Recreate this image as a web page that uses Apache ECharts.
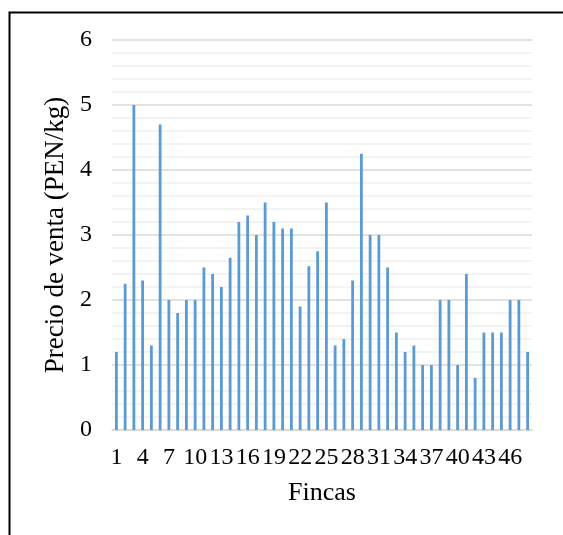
<!DOCTYPE html>
<html>
<head>
<meta charset="utf-8">
<script src="https://cdn.jsdelivr.net/npm/echarts@6/dist/echarts.min.js"></script>
<style>
html,body{margin:0;padding:0;background:#fff;}
#chart{width:563px;height:535px;}
</style>
</head>
<body>
<div id="chart"></div>
<script>
var fincas = [];
for (var i = 1; i <= 48; i++) fincas.push(String(i));
var precios = [1.2, 2.25, 5.0, 2.3, 1.3, 4.7, 2.0, 1.8, 2.0, 2.0,
               2.5, 2.4, 2.2, 2.65, 3.2, 3.3, 3.0, 3.5, 3.2, 3.1,
               3.1, 1.9, 2.52, 2.75, 3.5, 1.3, 1.4, 2.3, 4.25, 3.0,
               3.0, 2.5, 1.5, 1.2, 1.3, 1.0, 1.0, 2.0, 2.0, 1.0,
               2.4, 0.8, 1.5, 1.5, 1.5, 2.0, 2.0, 1.2];
var yTitle = 'Precio de venta (PEN/kg)';
var xTitle = 'Fincas';

var chart = echarts.init(document.getElementById('chart'));
var font = 'Liberation Serif';
chart.setOption({
  animation: false,
  graphic: [{
    type: 'rect',
    left: 7, top: 10,
    shape: {width: 620, height: 620},
    style: {fill: 'none', stroke: '#000', lineWidth: 2}
  }],
  grid: {left: 112, right: 31, top: 40, bottom: 105},
  xAxis: {
    type: 'category',
    data: fincas,
    name: xTitle,
    nameLocation: 'middle',
    nameGap: 50,
    nameTextStyle: {fontFamily: font, fontSize: 26, color: '#000'},
    axisLine: {lineStyle: {color: '#d9d9d9', width: 1.5}},
    axisTick: {show: false},
    axisLabel: {interval: 2, fontFamily: font, fontSize: 24, color: '#000', margin: 16}
  },
  yAxis: {
    type: 'value',
    min: 0, max: 6, interval: 1,
    name: yTitle,
    nameLocation: 'middle',
    nameGap: 39,
    nameTextStyle: {fontFamily: font, fontSize: 27, color: '#000'},
    axisLine: {show: false},
    axisTick: {show: false},
    axisLabel: {fontFamily: font, fontSize: 24, color: '#000', margin: 20},
    splitLine: {lineStyle: {color: '#d9d9d9', width: 1.5}},
    minorTick: {show: false, splitNumber: 5},
    minorSplitLine: {show: true, lineStyle: {color: '#f0f0f0', width: 1.5}}
  },
  series: [{
    type: 'bar',
    data: precios,
    barWidth: 2.8,
    itemStyle: {color: '#5B9BD5'}
  }]
});
</script>
</body>
</html>
